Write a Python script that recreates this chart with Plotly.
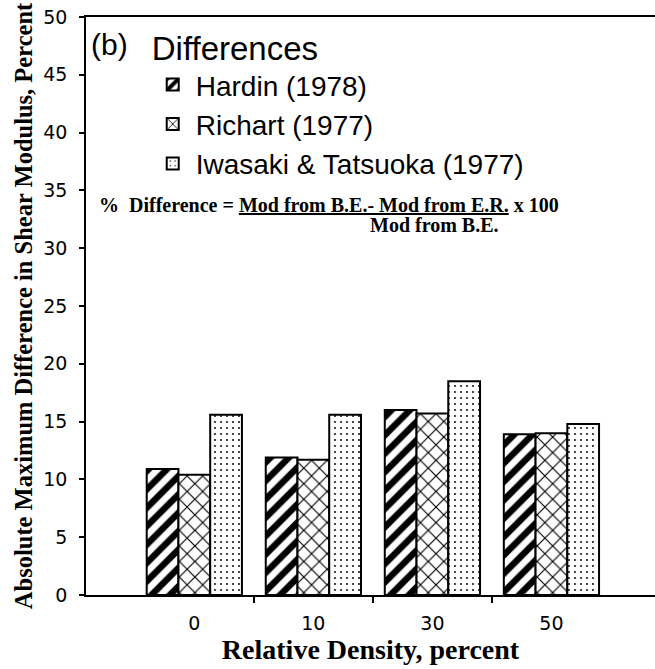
import plotly.graph_objects as go

# ---- data ----
categories = ["0", "10", "30", "50"]
hardin = [10.9, 11.9, 16.0, 13.9]
richart = [10.4, 11.7, 15.7, 14.0]
iwasaki = [15.6, 15.6, 18.5, 14.8]
series_names = ["Hardin (1978)", "Richart (1977)", "Iwasaki & Tatsuoka (1977)"]
y_ticks = list(range(0, 51, 5))

x_pos = list(range(len(categories)))
boundaries = [i + 0.5 for i in x_pos[:-1]]

SANS = "Liberation Sans, Arial, sans-serif"
SERIF = "Liberation Serif, Times New Roman, serif"
TICKF = "DejaVu Sans, sans-serif"

patterns = [
    dict(shape="/", fgcolor="black", bgcolor="white", fgopacity=1, size=13, solidity=0.5),
    dict(shape="x", fgcolor="black", bgcolor="white", fgopacity=1, size=11, solidity=0.2),
    dict(shape=".", fgcolor="black", bgcolor="white", fgopacity=1, size=6, solidity=0.08),
]

fig = go.Figure()
for name, vals, pat in zip(series_names, [hardin, richart, iwasaki], patterns):
    fig.add_trace(go.Bar(
        x=x_pos, y=vals, name=name,
        marker=dict(color="white", line=dict(color="black", width=2), pattern=pat),
    ))

fig.update_layout(
    width=655, height=669,
    margin=dict(l=86, r=0, t=17, b=74),
    paper_bgcolor="white", plot_bgcolor="white",
    barmode="group", bargap=0.2, bargroupgap=0,
    font=dict(family=SANS, color="black"),
    showlegend=True,
    legend=dict(
        x=0.112, y=1.0, xanchor="left", yanchor="top",
        bgcolor="rgba(0,0,0,0)", borderwidth=0,
        font=dict(family=SANS, size=28, color="black"),
        title=dict(text="Differences", font=dict(family=SANS, size=33, color="black")),
        tracegroupgap=0, itemwidth=36,
    ),
    xaxis=dict(
        range=[-0.91, 3.87],
        tickmode="array", tickvals=x_pos, ticktext=categories, ticks="",
        tickfont=dict(family=TICKF, size=19, color="black"),
        ticklabelstandoff=10,
        showline=True, linecolor="black", linewidth=1.5, mirror=True,
        showgrid=False, zeroline=False,
        minor=dict(tickmode="array", tickvals=boundaries, ticks="outside",
                   ticklen=6, tickwidth=1.5, tickcolor="black", showgrid=False),
        title=dict(text="<b>Relative Density, percent</b>",
                   font=dict(family=SERIF, size=28, color="black"), standoff=4),
    ),
    yaxis=dict(
        range=[0, 50],
        tickmode="array", tickvals=y_ticks, ticks="outside", ticklen=5,
        tickwidth=1.5, tickcolor="black",
        tickfont=dict(family=TICKF, size=19, color="black"),
        ticklabelstandoff=8,
        showline=True, linecolor="black", linewidth=1.5,
        showgrid=False, zeroline=False,
        title=dict(text="<b>Absolute Maximum Difference in Shear Modulus, Percent</b>",
                   font=dict(family=SERIF, size=24.5, color="black"), standoff=4),
    ),
    annotations=[
        dict(text="(b)", xref="paper", yref="paper", x=0.005, y=0.9516,
             xanchor="left", yanchor="middle", showarrow=False,
             font=dict(family=SANS, size=30, color="black")),
        dict(text="<b>%  Difference = <u>Mod from B.E.- Mod from E.R.</u> x 100</b>",
             xref="paper", yref="paper", x=0.019, y=0.675,
             xanchor="left", yanchor="middle", showarrow=False,
             font=dict(family=SERIF, size=20, color="black")),
        dict(text="<b>Mod from B.E.</b>",
             xref="paper", yref="paper", x=0.6116, y=0.640,
             xanchor="center", yanchor="middle", showarrow=False,
             font=dict(family=SERIF, size=20, color="black")),
    ],
)

fig.write_html("out.html")
